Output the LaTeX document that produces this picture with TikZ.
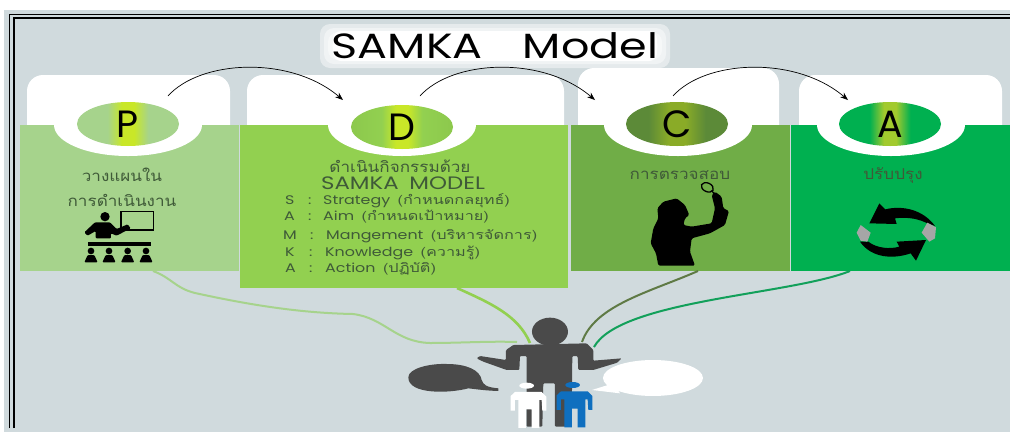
\documentclass[tikz,border=0pt]{standalone}
\usepackage{fontspec}
\setmainfont{Poppins}
\newfontfamily\widefont[FakeStretch=1.27]{Poppins}
\newfontfamily\thaifont[Script=Thai,FakeStretch=1.14]{Loma}
\newfontfamily\thaiwide[Script=Thai,FakeStretch=1.3]{Loma}
\usetikzlibrary{arrows,arrows.meta,shapes}
\definecolor{wallgray}{HTML}{D0DADD}
\definecolor{panelP}{HTML}{A6D38C}
\definecolor{panelD}{HTML}{92D050}
\definecolor{panelC}{HTML}{70AD47}
\definecolor{panelA}{HTML}{00B050}
\definecolor{lineC}{HTML}{5F7A45}
\definecolor{lineA}{HTML}{12A05A}
\definecolor{ovalrimC}{HTML}{5C8A38}
\definecolor{mangray}{HTML}{4A4A4A}
\definecolor{manblue}{HTML}{0F6FBF}
\definecolor{inkgreen}{HTML}{3F5A38}
\pgfdeclarehorizontalshading{ovalP}{100bp}{color(0bp)=(panelP);color(40bp)=(panelP);color(47bp)=(yellow!50!panelD);color(53bp)=(yellow!50!panelD);color(60bp)=(panelP);color(100bp)=(panelP)}
\pgfdeclarehorizontalshading{ovalD}{100bp}{color(0bp)=(panelD!90!black);color(40bp)=(panelD);color(47bp)=(yellow!50!panelD);color(53bp)=(yellow!50!panelD);color(60bp)=(panelD);color(100bp)=(panelD!90!black)}
\pgfdeclarehorizontalshading{ovalC}{100bp}{color(0bp)=(ovalrimC);color(36bp)=(ovalrimC);color(46bp)=(yellow!35!panelC!85!black);color(54bp)=(yellow!35!panelC!85!black);color(64bp)=(ovalrimC);color(100bp)=(ovalrimC)}
\pgfdeclarehorizontalshading{ovalA}{100bp}{color(0bp)=(panelA);color(40bp)=(panelA);color(47bp)=(yellow!35!panelC);color(53bp)=(yellow!35!panelC);color(60bp)=(panelA);color(100bp)=(panelA)}
\tikzstyle{topcard}=[fill=white,rounded corners=16pt]
\tikzstyle{panel}=[rectangle,inner sep=0pt,outer sep=0pt]
\tikzstyle{notch}=[ellipse,fill=white,minimum width=148pt,minimum height=62pt,inner sep=0pt]
\tikzstyle{oval}=[ellipse,minimum width=102pt,minimum height=44pt,inner sep=0pt,font=\fontsize{38}{38}\selectfont]
\tikzstyle{thaitext}=[text=inkgreen,inner sep=0pt,font=\thaifont\fontsize{15}{15}\selectfont]
\tikzstyle{listtext}=[text=inkgreen,inner sep=0pt,anchor=base west,font=\widefont\fontsize{12.5}{12.5}\selectfont]
\tikzstyle{flow}=[draw,black,line width=.7pt,-{Stealth[length=8pt,width=6pt]}]
\tikzstyle{strand}=[draw,line width=2pt]
\begin{document}
\begin{tikzpicture}[x=1pt,y=-1pt]
    \useasboundingbox (0,0) rectangle (1010,432);
    % First the wall and its double frame
    \fill[white] (0,0) rectangle (1010,432);
    \fill[wallgray] (4,10) rectangle (1010,432);
    \draw[black,line width=1pt] (9.5,428) -- (9.5,14.5) -- (1010,14.5);
    \draw[black,line width=1.6pt] (14,428) -- (14,18) -- (1010,18);
    % Title on its white glow
    \foreach \grow in {28,20,12,4}
        \node[fill=white,fill opacity=.45,rounded corners=10pt,minimum width={322pt+\grow pt},minimum height={16pt+\grow pt},inner sep=0pt] (glow\grow) at (495,46) {};
    \node[fill=white,rounded corners=8pt,minimum width=324pt,minimum height=30pt,inner sep=0pt] (glowcore) at (495,46) {};
    \node[anchor=base,font=\widefont\fontsize{35}{35}\selectfont,inner sep=0pt] (title) at (495,58) {SAMKA\hspace{1.15em}Model};
    % White cards behind the panels
    \fill[topcard] (27,150) -- (27,75) -- (230,75) -- (230,150) -- cycle;
    \fill[topcard] (247,150) -- (247,75) -- (564,75) -- (564,150) -- cycle;
    \fill[topcard] (578,150) -- (578,68) -- (779,68) -- (779,150) -- cycle;
    \fill[topcard] (799,150) -- (799,75) -- (1002,75) -- (1002,150) -- cycle;
    % Panels
    \foreach \pos/\name/\panelw/\panelh in {{(129.5,198)/P/219/146}, {(404,206.5)/D/328/163}, {(680,198)/C/219/146}, {(900.5,198)/A/219/146}}
        \node[panel,fill=panel\name,minimum width=\panelw pt,minimum height=\panelh pt] (panel\name) at \pos {};
    % Notches and lettered ovals
    \foreach \pos/\name in {{(128,125)/P}, {(402,125)/D}, {(678,125)/C}, {(891,125)/A}}
        \node[notch] (notch\name) at \pos {};
    \foreach \pos/\name in {{(128,124)/P}, {(402,127)/D}, {(677,124)/C}, {(890,124)/A}}
        \node[oval,shading=oval\name] (oval\name) at \pos {\name};
    % Arrows from card to card
    \coordinate (outP) at (168,96);
    \coordinate (inD) at (343,100);
    \coordinate (outD) at (420,96);
    \coordinate (inC) at (595,100);
    \coordinate (outC) at (673,96);
    \coordinate (inA) at (848,100);
    \foreach \source/\dest in {outP/inD, outD/inC, outC/inA}
        \path[flow] (\source) .. controls +(32,-36) and +(-53,-45) .. (\dest);
    % Panel texts
    \node[thaitext] (planA) at (122,175) {วางแผนใน};
    \node[thaitext] (planB) at (122,200) {การดำเนินงาน};
    \node[thaitext] (doA) at (400,166) {ดำเนินกิจกรรมด้วย};
    \node[anchor=base,text=inkgreen,inner sep=0pt,font=\widefont\fontsize{18}{18}\selectfont] (doB) at (403,189) {SAMKA\hspace{.6em}MODEL};
    \node[thaitext] (checkA) at (680,175) {การตรวจสอบ};
    \node[thaitext] (actA) at (893,175) {ปรับปรุง};
    \foreach \i/\y/\lx/\cx/\tx/\lt/\txt in {1/204/285/308/323/S/Strategy\hspace{.6em}{\thaiwide(กำหนดกลยุทธ์)},
        2/220/284/308/323/A/Aim\hspace{.6em}{\thaiwide(กำหนดเป้าหมาย)},
        3/239/283/310/326/M/Mangement\hspace{.6em}{\thaiwide(บริหารจัดการ)},
        4/256/285/309/325/K/Knowledge\hspace{.6em}{\thaiwide(ความรู้)},
        5/272/285/309/325/A/Action\hspace{.6em}{\thaiwide(ปฏิบัติ)}} {
        \node[listtext] (letter\i) at (\lx,\y) {\lt};
        \node[listtext] (colon\i) at (\cx,\y) {:};
        \node[listtext] (word\i) at (\tx,\y) {\txt};
    }
    % Teacher icon
    \begin{scope}[shift={(75,205)},x=.3333pt,y=-.3333pt]
        \draw[black,line width=1.3pt] (138,20) rectangle (235,75);
        \fill[black] (90,35) circle (14);
        \fill[black,rounded corners=1pt] (60,52) -- (105,52) -- (125,72) -- (158,58) -- (167,70) -- (125,92) -- (108,85) -- (108,100) -- (62,100) -- (62,78) -- (38,92) -- (28,82) -- cycle;
        \fill[black] (38,110) rectangle (228,123);
        \foreach \x in {48,102,158,213} {
            \fill[black] (\x,138) circle (10);
            \fill[black,rounded corners=1pt] (\x-10,150) -- (\x+10,150) -- (\x+20,172) -- (\x-20,172) -- cycle;
        }
    \end{scope}
    % Woman with the lens
    \begin{scope}[shift={(630,175)},x=.3333pt,y=-.3333pt]
        \fill[black,rounded corners=1.5pt] (85,272) -- (78,235) -- (62,205) -- (70,160) -- (85,130) -- (82,100) -- (100,80) -- (140,70) -- (165,90) -- (178,120) -- (165,130) -- (160,150) -- (185,155) -- (245,145) -- (255,100) -- (245,60) -- (255,50) -- (275,65) -- (280,100) -- (297,108) -- (285,150) -- (240,175) -- (185,190) -- (180,230) -- (195,272) -- cycle;
        \draw[black,line width=1.3pt,rotate around={-25:(232,37)}] (232,37) ellipse (19 and 13);
        \draw[black,line width=1.3pt] (245,48) -- (258,60);
    \end{scope}
    % Turning arrows
    \begin{scope}[shift={(840,190)},x=.3333pt,y=-.3333pt]
        \fill[black] (118,40) -- (136,58) .. controls (190,45) and (250,60) .. (285,108) -- (258,98) .. controls (225,82) and (190,82) .. (165,85) -- (170,102) -- (88,100) -- cycle;
        \fill[black] (228,212) -- (212,190) .. controls (160,208) and (95,205) .. (60,155) -- (85,155) .. controls (110,175) and (150,178) .. (178,170) -- (170,155) -- (258,150) -- cycle;
        \fill[black!35] (62,105) -- (92,128) -- (82,155) -- (62,152) -- (50,128) -- cycle;
        \fill[black!35] (262,98) -- (288,112) -- (285,145) -- (268,155) -- (245,128) -- cycle;
    \end{scope}
    % Figures at the foot
    \begin{scope}[shift={(380,290)},x=.3333pt,y=-.3333pt]
        \node[ellipse,fill=mangray,minimum width=36pt,minimum height=28pt,inner sep=0pt] (manhead) at (510,125) {};
        \fill[mangray,rounded corners=1pt] (400,165) -- (620,160) -- (640,180) -- (640,212) -- (725,205) -- (712,218) -- (640,240) -- (595,240) -- (593,198) -- (577,198) -- (575,410) -- (525,410) -- (525,280) -- (490,280) -- (487,410) -- (440,410) -- (440,198) -- (420,198) -- (418,240) -- (380,240) -- (310,215) -- (290,205) -- (300,198) -- (378,210) -- (378,180) -- cycle;
        \fill[mangray] (85,262) .. controls (85,235) and (150,220) .. (200,222) .. controls (260,222) and (300,240) .. (305,270) .. controls (310,285) and (320,292) .. (355,295) -- (355,303) .. controls (320,302) and (290,298) .. (265,295) .. controls (210,310) and (85,315) .. (85,262) -- cycle;
        \fill[white] (819,264) ellipse (150 and 54);
        \fill[white] (700,280) -- (636,300) -- (720,310) -- cycle;
        \foreach \shiftx/\shifty/\col in {0/0/white, 138/-2/manblue} {
            \begin{scope}[xshift=\shiftx*.3333pt,yshift=-\shifty*.3333pt]
                \fill[\col] (440,287) ellipse (22 and 9);
                \fill[\col] (392,318) -- (405,306) -- (485,306) -- (499,320) -- (499,362) -- (487,362) -- (485,330) -- (478,330) -- (478,414) -- (455,414) -- (455,358) -- (438,358) -- (438,414) -- (415,414) -- (415,330) -- (405,330) -- (405,362) -- (392,362) -- cycle;
            \end{scope}
        }
    \end{scope}
    % Strands from the panels to the man
    \coordinate (footP) at (153,271);
    \coordinate (footD) at (457,288);
    \coordinate (footC) at (698,271);
    \coordinate (footA) at (850,271);
    \coordinate (handP) at (517,342);
    \coordinate (handD) at (530,343);
    \coordinate (handC) at (582,342);
    \coordinate (handA) at (594,347);
    \path[strand,panelP] (footP) .. controls (172,278) and (175,288) .. (195,293) .. controls (250,305) and (300,313) .. (353,314) .. controls (385,318) and (395,342) .. (430,343) .. controls (460,343) and (490,341) .. (handP);
    \path[strand,panelD,line width=2.6pt] (footD) .. controls (490,303) and (518,315) .. (handD);
    \path[strand,lineC] (footC) .. controls (650,292) and (595,305) .. (handC);
    \path[strand,lineA] (footA) .. controls (790,295) and (620,300) .. (handA);
\end{tikzpicture}
\end{document}
